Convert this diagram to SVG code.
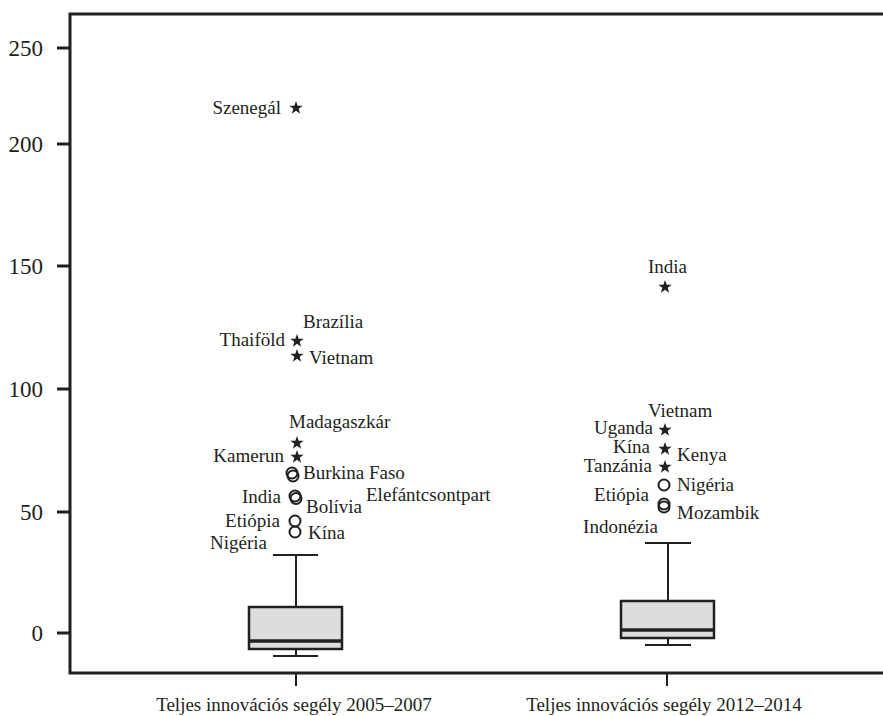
<svg xmlns="http://www.w3.org/2000/svg" width="883" height="716" viewBox="0 0 883 716">
<style>
  .ax{stroke:#231f20;stroke-width:3;fill:none}
  .tk{stroke:#231f20;stroke-width:3}
  .wh{stroke:#231f20;stroke-width:2;fill:none}
  .box{fill:#dcdddf;stroke:#231f20;stroke-width:2.5}
  .med{stroke:#231f20;stroke-width:3.5}
  .ci{fill:none;stroke:#231f20;stroke-width:2}
  .st{fill:#231f20}
  text{font-family:'Liberation Serif','Times New Roman',Times,serif;fill:#231f20}
  .lb{font-size:19px}
  .yl{font-size:23px;text-anchor:end}
  .xl{font-size:19px;text-anchor:middle}
  .e{text-anchor:end}
</style>
<defs>
  <path id="star" d="M0,-7 L1.65,-2.27 L6.66,-2.16 L2.67,0.87 L4.11,5.66 L0,2.8 L-4.11,5.66 L-2.67,0.87 L-6.66,-2.16 L-1.65,-2.27 Z"/>
</defs>
<rect width="883" height="716" fill="#ffffff"/>
<g id="axes">
  <polyline class="ax" points="883,14 70,14 70,673 883,673"/>
  <line class="tk" x1="57" y1="48" x2="70" y2="48"/>
  <line class="tk" x1="57" y1="144" x2="70" y2="144"/>
  <line class="tk" x1="57" y1="266" x2="70" y2="266"/>
  <line class="tk" x1="57" y1="389" x2="70" y2="389"/>
  <line class="tk" x1="57" y1="512" x2="70" y2="512"/>
  <line class="tk" x1="57" y1="633" x2="70" y2="633"/>
  <line class="wh" x1="296" y1="673" x2="296" y2="686"/>
  <line class="wh" x1="667" y1="673" x2="667" y2="686"/>
  <text class="yl" x="43" y="56">250</text>
  <text class="yl" x="43" y="152">200</text>
  <text class="yl" x="43" y="274">150</text>
  <text class="yl" x="43" y="397">100</text>
  <text class="yl" x="43" y="520">50</text>
  <text class="yl" x="43" y="641">0</text>
  <text class="xl" x="294" y="711">Teljes innovációs segély 2005–2007</text>
  <text class="xl" x="664" y="711">Teljes innovációs segély 2012–2014</text>
</g>
<g id="box1">
  <line class="wh" x1="296" y1="555" x2="296" y2="607"/>
  <line class="wh" x1="273" y1="555" x2="318" y2="555"/>
  <line class="wh" x1="296" y1="649" x2="296" y2="656"/>
  <line class="wh" x1="273" y1="656" x2="318" y2="656"/>
  <rect class="box" x="249" y="607" width="93" height="42"/>
  <line class="med" x1="249" y1="641" x2="342" y2="641"/>
</g>
<g id="box2">
  <line class="wh" x1="668" y1="543" x2="668" y2="601"/>
  <line class="wh" x1="645" y1="543" x2="691" y2="543"/>
  <line class="wh" x1="668" y1="638" x2="668" y2="645"/>
  <line class="wh" x1="645" y1="645" x2="691" y2="645"/>
  <rect class="box" x="621" y="601" width="93" height="37"/>
  <line class="med" x1="621" y1="630" x2="714" y2="630"/>
</g>
<g id="outliers1">
  <use href="#star" class="st" x="296" y="108"/>
  <use href="#star" class="st" x="297" y="341"/>
  <use href="#star" class="st" x="297" y="356"/>
  <use href="#star" class="st" x="297" y="443"/>
  <use href="#star" class="st" x="297" y="457"/>
  <circle class="ci" cx="292" cy="473" r="5.5"/>
  <circle class="ci" cx="293" cy="476" r="5.5"/>
  <circle class="ci" cx="295" cy="496" r="5.5"/>
  <circle class="ci" cx="296" cy="498.5" r="5.5"/>
  <circle class="ci" cx="295" cy="521" r="5.5"/>
  <circle class="ci" cx="295" cy="532" r="5.5"/>
  <text class="lb e" x="281" y="114">Szenegál</text>
  <text class="lb" x="303" y="328">Brazília</text>
  <text class="lb e" x="285" y="346">Thaiföld</text>
  <text class="lb" x="309" y="364">Vietnam</text>
  <text class="lb" x="289" y="428">Madagaszkár</text>
  <text class="lb e" x="284" y="462">Kamerun</text>
  <text class="lb" x="303" y="479">Burkina Faso</text>
  <text class="lb e" x="281" y="503">India</text>
  <text class="lb" x="366" y="501">Elefántcsontpart</text>
  <text class="lb" x="306" y="513">Bolívia</text>
  <text class="lb e" x="280" y="527">Etiópia</text>
  <text class="lb" x="308" y="539">Kína</text>
  <text class="lb e" x="267" y="549">Nigéria</text>
</g>
<g id="outliers2">
  <use href="#star" class="st" x="665" y="287"/>
  <use href="#star" class="st" x="665" y="430"/>
  <use href="#star" class="st" x="665" y="449"/>
  <use href="#star" class="st" x="665" y="467"/>
  <circle class="ci" cx="664" cy="485" r="5.5"/>
  <circle class="ci" cx="664" cy="504" r="5.5"/>
  <circle class="ci" cx="664" cy="507" r="5.5"/>
  <text class="lb" x="648" y="273">India</text>
  <text class="lb" x="648" y="417">Vietnam</text>
  <text class="lb e" x="653" y="434">Uganda</text>
  <text class="lb e" x="650" y="453">Kína</text>
  <text class="lb" x="677" y="461">Kenya</text>
  <text class="lb e" x="652" y="472">Tanzánia</text>
  <text class="lb" x="677" y="491">Nigéria</text>
  <text class="lb e" x="649" y="501">Etiópia</text>
  <text class="lb" x="677" y="519">Mozambik</text>
  <text class="lb e" x="658" y="533">Indonézia</text>
</g>
</svg>
